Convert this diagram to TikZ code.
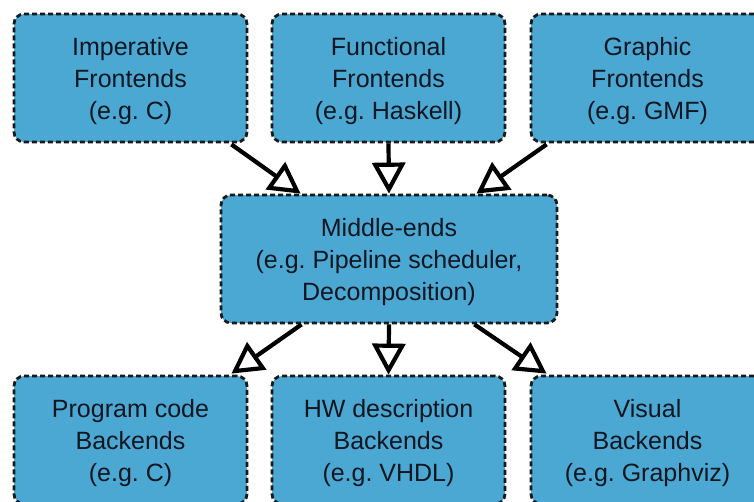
\documentclass[tikz,border=0pt]{standalone}
\usepackage{fontspec}
\setmainfont{Liberation Sans}
\usetikzlibrary{arrows.meta,calc}
\definecolor{boxfill}{RGB}{75,168,210}
\definecolor{boxtext}{RGB}{18,22,32}
\frenchspacing
% a tall invisible strut that pushes each label slightly downwards
\newcommand{\firstline}{\rule{0pt}{25pt}}
\begin{document}
\begin{tikzpicture}[x=1pt,y=-1pt,
  stage/.style={draw=black!90, line width=2.8pt, dash pattern=on 5pt off 3pt,
    fill=boxfill, rounded corners=10pt, minimum width=233pt, minimum height=128pt,
    inner sep=0pt, align=center, text=boxtext, font=\fontsize{25}{32}\selectfont},
  flow/.style={line width=4.2pt, -{Triangle[fill=white, length=31pt, width=33pt]}}]
\useasboundingbox (0,0) rectangle (754,501);
\fill[white] (0,0) rectangle (754,501);
\clip (0,0) rectangle (754,501);

% front ends
\node[stage] (imp) at (130.5,78) {\firstline Imperative\\Frontends\\(e.g. C)};
\node[stage] (fun) at (388.5,78) {\firstline Functional\\Frontends\\(e.g. Haskell)};
\node[stage] (gra) at (647.5,78) {\firstline Graphic\\Frontends\\(e.g. GMF)};

% middle ends
\node[stage, minimum width=336pt] (mid) at (389,259) {\firstline Middle-ends\\(e.g. Pipeline scheduler,\\Decomposition)};

% back ends
\node[stage] (prog) at (130.5,440) {\firstline Program code\\Backends\\(e.g. C)};
\node[stage] (hw) at (388.5,440) {\firstline HW description\\Backends\\(e.g. VHDL)};
\node[stage] (vis) at (647.5,440) {\firstline Visual\\Backends\\(e.g. Graphviz)};

% connectors
\draw[flow] ($(imp.south east)+(-17,1)$) -- ($(mid.north west)+(81,0)$);
\draw[flow] (fun.south) -- (mid.north);
\draw[flow] ($(gra.south west)+(17,1)$) -- ($(mid.north east)+(-82,0)$);
\draw[flow] ($(mid.south west)+(82,0)$) -- ($(prog.north east)+(-17,-1)$);
\draw[flow] (mid.south) -- (hw.north);
\draw[flow] ($(mid.south east)+(-84,0)$) -- ($(vis.north west)+(17,-1)$);
\end{tikzpicture}
\end{document}
